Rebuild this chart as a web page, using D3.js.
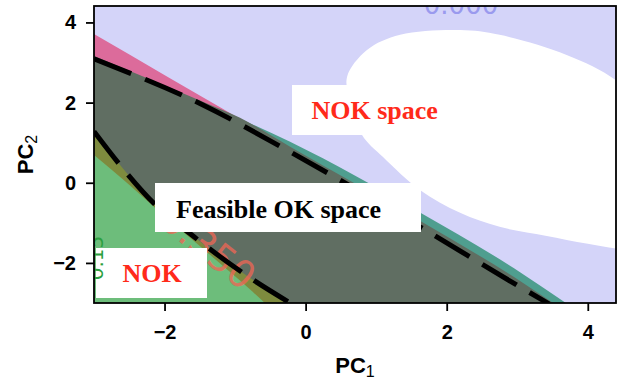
<!DOCTYPE html>
<html><head><meta charset="utf-8">
<script src="https://cdn.jsdelivr.net/npm/d3@7"></script>
<style>body{margin:0;background:#fff}svg{display:block}</style>
</head><body>
<svg id="c" width="619" height="382"></svg>
<script>
// ---- data (PC1, PC2 coordinates) ----
const xTicks = [-2, 0, 2, 4];
const yTicks = [-2, 0, 2, 4];
const xDomain = [-3, 4.4];
const yDomain = [-3, 4.41];
const xLabel = "PC", xSub = "1";
const yLabel = "PC", ySub = "2";
// contour "0.000" (white region)
const whiteRegion = [[0.587,2.64],[0.87,3.31],[1.34,3.69],[2.19,3.81],[2.75,3.69],[3.70,3.19],[4.40,2.56],[4.95,1.6],[5.25,0.2],[5.05,-1.2],[4.6,-1.63],[4.0,-1.52],[3.4,-1.32],[2.75,-1.10],[2.19,-0.75],[1.62,-0.18],[1.097,0.64],[0.80,1.19],[0.63,2.05]];
const tealBoundary = [[-3.00,3.31],[-0.93,1.60],[-0.22,1.02],[1.64,-0.76],[3.04,-2.23],[3.69,-3.00]];
const pinkBoundary = [[-3.00,3.71],[-1.96,2.645],[-0.93,1.59],[0.0,0.55]];
const feasibleUpper = [[-3.00,3.16],[-1.455,2.02],[-0.93,1.62],[-0.22,0.90],[1.62,-0.95],[3.04,-2.45],[3.51,-3.00]];
const feasibleLower = [[-3.00,1.28],[-2.63,0.44],[-2.13,-0.55],[-1.595,-1.33],[-0.79,-2.37],[-0.18,-3.04]];
const greenBoundary = [[-3.00,0.69],[-2.60,0.10],[-2.06,-0.74],[-1.50,-1.58],[-0.79,-2.66],[-0.59,-2.98]];
const dashedUpper = [[-3.00,3.09],[-1.455,1.94],[-0.22,0.77],[1.62,-1.10],[3.04,-2.60],[3.45,-3.02]];
const dashedLower = feasibleLower;
const contourLabelTop = "0.000";
const contourLabelRed = "0.350";
const contourLabelGreen = "0.15";
const annotations = ["NOK space", "Feasible OK space", "NOK"];

// ---- drawing ----
const svg = d3.select("#c");
const L = 94, R = 616, T = 6, B = 303;
const x = d3.scaleLinear().domain(xDomain).range([L, R]);
const y = d3.scaleLinear().domain(yDomain).range([B, T]);

svg.append("defs").append("clipPath").attr("id","clip")
  .append("rect").attr("x",L).attr("y",T).attr("width",R-L).attr("height",B-T);

const g = svg.append("g").attr("clip-path","url(#clip)");
g.append("rect").attr("x",L).attr("y",T).attr("width",R-L).attr("height",B-T).attr("fill","#d4d4f9");

g.append("path").datum(whiteRegion)
  .attr("d", d3.line().x(d=>x(d[0])).y(d=>y(d[1])).curve(d3.curveCatmullRomClosed.alpha(0.5)))
  .attr("fill","#ffffff");

const areaBelow = d3.area().x(d=>x(d[0])).y0(y(-4)).y1(d=>y(d[1])).curve(d3.curveMonotoneX);
g.append("path").datum(tealBoundary).attr("d",areaBelow).attr("fill","#4f9e8f");
g.append("path").datum(pinkBoundary).attr("d",areaBelow).attr("fill","#dc6b9b");
g.append("path").datum(feasibleUpper).attr("d",areaBelow).attr("fill","#606e62");
g.append("path").datum(feasibleLower).attr("d",areaBelow).attr("fill","#7e8b3e");
g.append("path").datum(greenBoundary).attr("d",areaBelow).attr("fill","#6dbd7b");

// contour label at top (clipped by the axes, as in the reference)
g.append("text").attr("x",461).attr("y",13.5).attr("text-anchor","middle")
  .attr("font-family","DejaVu Sans").attr("font-size",26).attr("fill","#9a9aee")
  .text(contourLabelTop);

// red contour label along the lower dashed line
g.append("text").attr("transform","translate(250.4,281.5) rotate(38.5)")
  .attr("text-anchor","end").attr("dominant-baseline","central")
  .attr("font-family","DejaVu Sans").attr("font-size",38).attr("fill","#ee6655").attr("fill-opacity",0.8)
  .text(contourLabelRed);

const lineGen = d3.line().x(d=>x(d[0])).y(d=>y(d[1])).curve(d3.curveMonotoneX);
[dashedUpper, dashedLower].forEach(dl=>{
  g.append("path").datum(dl).attr("d",lineGen).attr("fill","none")
   .attr("stroke","#000").attr("stroke-width",5).attr("stroke-dasharray","40,15");
});

// annotation boxes
function box(x0,y0,w,h){ g.append("rect").attr("x",x0).attr("y",y0).attr("width",w).attr("height",h).attr("fill","#fff"); }
function label(tx,ty,txt,col){
  g.append("text").attr("x",tx).attr("y",ty).attr("font-family","Liberation Serif, Times New Roman, serif")
   .attr("font-weight","bold").attr("font-size",26).attr("fill",col).text(txt);
}
box(292,85,168,50); label(311.5,119,annotations[0],"#ff2a1a");
box(155,183,266,49); label(176,218.3,annotations[1],"#000");
box(96,248,111,50); label(122.5,282.3,annotations[2],"#ff2a1a");

// green contour label at left edge
g.append("text").attr("transform","translate(103,258) rotate(-90)")
  .attr("text-anchor","middle").attr("font-family","DejaVu Sans").attr("font-size",20)
  .attr("fill","#2ca040").text(contourLabelGreen);

// frame
svg.append("rect").attr("x",L).attr("y",T).attr("width",R-L).attr("height",B-T)
  .attr("fill","none").attr("stroke","#000").attr("stroke-width",1.8);

// axes
const fmt = d3.format("");
const ax = svg.append("g").attr("transform",`translate(0,${B})`)
  .call(d3.axisBottom(x).tickValues(xTicks).tickSize(8).tickPadding(14).tickFormat(fmt));
const ay = svg.append("g").attr("transform",`translate(${L},0)`)
  .call(d3.axisLeft(y).tickValues(yTicks).tickSize(8).tickPadding(10).tickFormat(fmt));
[ax,ay].forEach(a=>{
  a.select(".domain").remove();
  a.selectAll(".tick line").attr("stroke","#000").attr("stroke-width",1.8);
  a.selectAll(".tick text").attr("font-family","Liberation Sans, Arial, sans-serif")
   .attr("font-weight","bold").attr("font-size",20).attr("fill","#000");
});

// axis labels
const xl = svg.append("text").attr("x",(L+R)/2).attr("y",373).attr("text-anchor","middle")
  .attr("font-family","Liberation Sans, Arial, sans-serif").attr("font-size",22).attr("fill","#000");
xl.append("tspan").attr("font-weight","bold").text(xLabel);
xl.append("tspan").attr("font-size",16).attr("dy",4).text(xSub);

const yl = svg.append("text").attr("transform",`translate(33,${(T+B)/2}) rotate(-90)`).attr("text-anchor","middle")
  .attr("font-family","Liberation Sans, Arial, sans-serif").attr("font-size",22).attr("fill","#000");
yl.append("tspan").attr("font-weight","bold").text(yLabel);
yl.append("tspan").attr("font-size",16).attr("dy",4).text(ySub);
</script>
</body></html>
